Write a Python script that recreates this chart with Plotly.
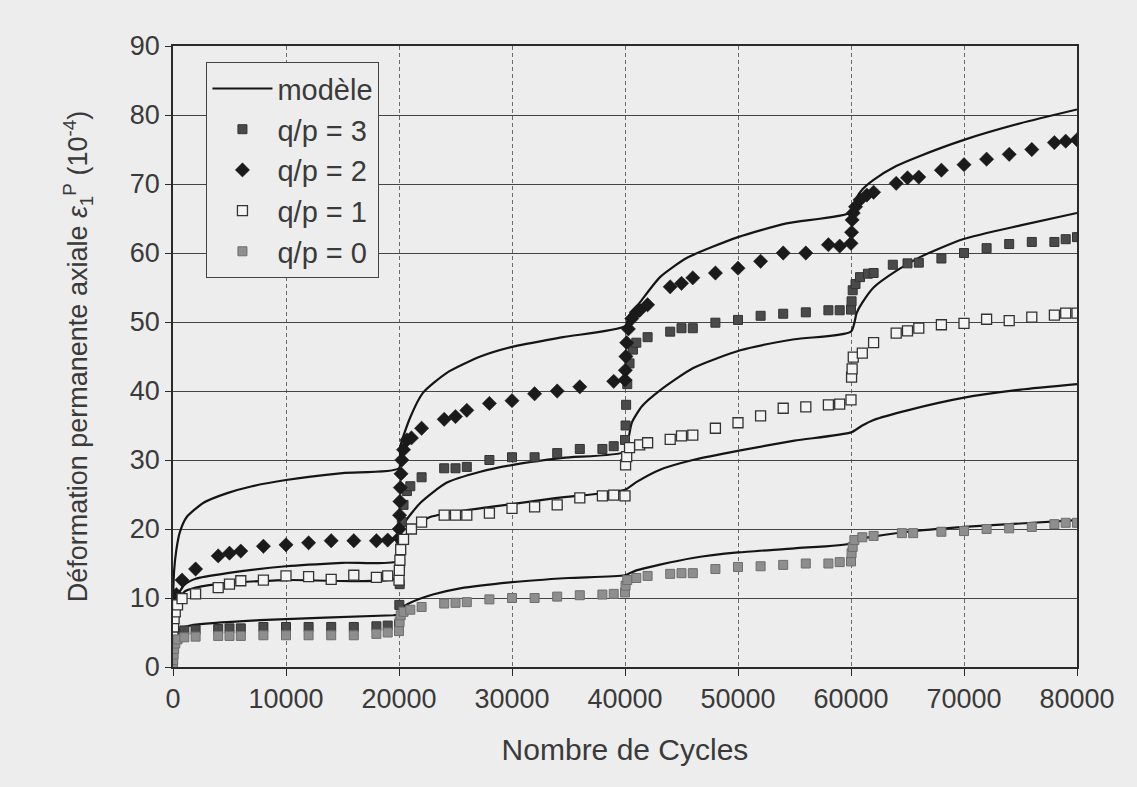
import plotly.graph_objects as go

# ---- measured permanent axial strain (10^-4) vs number of cycles ----
qp3_cycles = [0, 200, 500, 1000, 2000, 4000, 5000, 6000, 8000, 10000, 12000, 14000, 16000, 18000, 19000, 20000,
              20030, 20060, 20100, 20150, 20250, 20400, 20700, 21000, 22000, 24000, 25000, 26000, 28000, 30000,
              32000, 34000, 36000, 38000, 39000, 40000, 40050, 40100, 40200, 40400, 40700, 41000, 42000, 44000,
              45000, 46000, 48000, 50000, 52000, 54000, 56000, 58000, 59000, 60000, 60050, 60150, 60400, 60800,
              61500, 62000, 63700, 65000, 66000, 68000, 70000, 72000, 74000, 76000, 78000, 79000, 80000]
qp3_strain = [3.5, 4.5, 5.0, 5.3, 5.4, 5.5, 5.6, 5.6, 5.8, 5.8, 5.8, 5.8, 5.8, 5.9, 6.0, 6.2,
              9.0, 12.0, 15.0, 18.0, 21.0, 23.5, 25.5, 26.2, 27.5, 28.8, 28.8, 29.0, 30.0, 30.4,
              30.4, 31.0, 31.6, 31.6, 32.0, 32.9, 35.0, 38.0, 41.0, 44.0, 46.0, 47.0, 47.8, 48.6,
              49.1, 49.1, 49.9, 50.3, 50.9, 51.2, 51.4, 51.7, 51.7, 51.8, 53.0, 54.6, 55.5, 56.5,
              57.0, 57.1, 58.3, 58.5, 58.6, 59.2, 60.0, 60.7, 61.3, 61.6, 61.6, 62.0, 62.3]

qp2_cycles = [0, 300, 800, 2000, 4000, 5000, 6000, 8000, 10000, 12000, 14000, 16000, 18000, 19000, 20000,
              20020, 20050, 20080, 20120, 20180, 20250, 20400, 20700, 21100, 22000, 24000, 25000, 26000, 28000,
              30000, 32000, 34000, 36000, 39000, 40000, 40030, 40080, 40150, 40300, 40600, 41000, 41300, 42000,
              44000, 45000, 46000, 48000, 50000, 52000, 54000, 56000, 58000, 59000, 60000, 60050, 60100, 60200,
              60400, 60800, 61400, 62000, 64000, 65000, 66000, 68000, 70000, 72000, 74000, 76000, 78000, 79000,
              80000]
qp2_strain = [9.5, 10.5, 12.6, 14.2, 16.1, 16.5, 16.8, 17.5, 17.7, 18.0, 18.3, 18.3, 18.3, 18.4, 18.7,
              20.0, 22.0, 24.0, 26.0, 28.0, 30.0, 31.5, 32.9, 33.2, 34.6, 35.9, 36.3, 37.2, 38.2,
              38.6, 39.6, 40.0, 40.6, 41.4, 41.6, 43.0, 45.0, 47.0, 49.0, 50.5, 51.4, 51.7, 52.5,
              55.1, 55.6, 56.4, 57.1, 57.8, 58.8, 60.0, 60.0, 61.2, 61.0, 61.4, 63.0, 64.8, 65.8,
              66.7, 67.7, 68.4, 68.8, 70.1, 70.9, 71.0, 72.0, 72.8, 73.6, 74.3, 75.0, 76.0, 76.2,
              76.4]

qp1_cycles = [0, 50, 100, 200, 400, 800, 2000, 4000, 5000, 6000, 8000, 10000, 12000, 14000, 16000, 18000, 19000,
              20000, 20030, 20080, 20150, 20400, 21100, 22000, 24000, 25000, 26000, 28000, 30000, 32000, 34000,
              36000, 38000, 39000, 40000, 40050, 40150, 40400, 41300, 42000, 44000, 45000, 46000, 48000, 50000,
              52000, 54000, 56000, 58000, 59000, 60000, 60050, 60100, 60200, 61000, 62000, 64000, 65000, 66000,
              68000, 70000, 72000, 74000, 76000, 78000, 79000, 80000]
qp1_strain = [4.5, 5.8, 7.0, 8.0, 9.0, 9.9, 10.6, 11.5, 12.0, 12.5, 12.6, 13.2, 13.1, 12.7, 13.3, 13.0, 13.2,
              12.6, 14.0, 15.5, 17.0, 18.5, 20.0, 21.0, 22.0, 22.0, 22.0, 22.3, 23.0, 23.2, 23.5,
              24.5, 24.8, 24.9, 24.8, 29.3, 30.5, 31.8, 32.2, 32.5, 33.0, 33.5, 33.6, 34.6, 35.4,
              36.4, 37.5, 37.7, 38.0, 38.1, 38.7, 42.0, 43.2, 44.9, 45.5, 47.0, 48.4, 48.7, 49.1,
              49.6, 49.8, 50.4, 50.2, 50.7, 51.0, 51.3, 51.3]

qp0_cycles = [0, 20, 50, 100, 200, 400, 1000, 2000, 4000, 5000, 6000, 8000, 10000, 12000, 14000, 16000, 18000,
              19000, 20000, 20050, 20150, 20400, 21000, 22000, 24000, 25000, 26000, 28000, 30000, 32000, 34000,
              36000, 38000, 39000, 40000, 40050, 40200, 41000, 42000, 44000, 45000, 46000, 48000, 50000, 52000,
              54000, 56000, 58000, 59000, 60000, 60050, 60150, 60300, 61000, 62000, 64500, 65500, 68000, 70000,
              72000, 74000, 76000, 78000, 79000, 80000]
qp0_strain = [0.3, 1.0, 1.8, 2.6, 3.4, 4.0, 4.3, 4.4, 4.5, 4.5, 4.5, 4.6, 4.6, 4.6, 4.6, 4.6, 4.8,
              5.0, 5.2, 6.5, 7.5, 8.0, 8.3, 8.7, 9.2, 9.3, 9.4, 9.8, 10.0, 10.0, 10.2,
              10.4, 10.5, 10.6, 10.8, 11.8, 12.6, 12.9, 13.2, 13.5, 13.6, 13.6, 14.2, 14.5, 14.6,
              14.8, 15.0, 15.0, 15.2, 15.3, 16.5, 17.4, 18.4, 18.8, 19.0, 19.4, 19.4, 19.6, 19.7,
              20.0, 20.1, 20.3, 20.7, 20.9, 20.9]

# ---- model curves ----
model2_cycles = [0, 100, 300, 600, 1200, 2700, 4800, 7000, 10000, 15000, 20000,
                 20100, 21000, 22100, 24200, 27200, 30000, 34500, 40000,
                 40400, 41300, 43100, 45500, 50000, 54300, 60000,
                 60500, 61000, 62000, 64000, 66000, 70000, 75000, 80000]
model2_strain = [10.0, 14.0, 17.0, 19.5, 21.7, 23.8, 25.2, 26.2, 27.1, 28.1, 28.8,
                 31.9, 36.2, 39.7, 42.6, 45.0, 46.4, 47.8, 49.4,
                 51.0, 52.8, 56.5, 59.3, 62.3, 64.3, 65.9,
                 68.0, 69.2, 70.6, 72.6, 74.0, 76.4, 78.8, 80.8]

model3_cycles = [0, 100, 300, 1000, 2000, 4800, 10000, 15000, 20000,
                 20100, 20500, 21900, 24200, 27200, 30100, 34500, 40000,
                 40300, 40600, 41500, 43100, 46000, 50200, 55000, 60000,
                 60500, 61000, 62000, 64000, 66100, 69900, 75000, 80000]
model3_strain = [5.0, 8.0, 10.0, 11.9, 12.8, 13.6, 14.6, 15.1, 15.4,
                 18.5, 20.9, 23.8, 26.7, 28.3, 29.3, 30.3, 31.2,
                 33.0, 35.4, 37.8, 40.1, 43.3, 45.9, 47.5, 48.6,
                 51.3, 52.8, 55.0, 57.4, 59.4, 62.0, 64.0, 65.8]

model1_cycles = [0, 100, 300, 1000, 2000, 5000, 10000, 20000,
                 20100, 20500, 21500, 22700, 25000, 28100, 34000, 40000,
                 41000, 43100, 46000, 50200, 55000, 60000,
                 61000, 62000, 65000, 69900, 75000, 80000]
model1_strain = [4.0, 7.0, 9.0, 10.9, 11.5, 12.2, 12.6, 13.0,
                 16.5, 18.8, 20.5, 21.7, 22.5, 23.2, 24.5, 25.7,
                 26.8, 28.6, 30.0, 31.4, 32.8, 34.0,
                 35.0, 35.8, 37.2, 39.0, 40.2, 41.0]

model0_cycles = [0, 100, 500, 1800, 7700, 19500, 20000,
                 20300, 21000, 23000, 25400, 30000, 35000, 40000,
                 41000, 43000, 46000, 50000, 55000, 60000,
                 60300, 62000, 65000, 70000, 75000, 80000]
model0_strain = [3.0, 4.5, 5.4, 6.1, 6.8, 7.5, 7.6,
                 8.6, 9.3, 10.5, 11.4, 12.3, 12.9, 13.3,
                 14.0, 14.8, 15.8, 16.6, 17.2, 17.9,
                 18.4, 18.9, 19.6, 20.3, 20.8, 21.3]

x_ticks = [0, 10000, 20000, 30000, 40000, 50000, 60000, 70000, 80000]
y_ticks = [0, 10, 20, 30, 40, 50, 60, 70, 80, 90]

PAPER = "#ededed"
INK = "#2a2a2a"
TEXT = "#3a3a3a"
FONT = "Liberation Sans, Arial, sans-serif"

fig = go.Figure()

models = [(model3_cycles, model3_strain), (model2_cycles, model2_strain),
          (model1_cycles, model1_strain), (model0_cycles, model0_strain)]
for i, (cx, cy) in enumerate(models):
    fig.add_trace(go.Scatter(
        x=cx, y=cy, mode="lines", name="modèle", legendgroup="modele",
        showlegend=(i == 0), line=dict(color="#151515", width=2.2, shape="spline", smoothing=0.6),
    ))

fig.add_trace(go.Scatter(
    x=qp3_cycles, y=qp3_strain, mode="markers", name="q/p = 3",
    marker=dict(symbol="square", size=9, color="#4a4a4a", line=dict(color="#333333", width=1)),
))
fig.add_trace(go.Scatter(
    x=qp2_cycles, y=qp2_strain, mode="markers", name="q/p = 2",
    marker=dict(symbol="diamond", size=11, color="#1a1a1a", line=dict(color="#1a1a1a", width=0.5)),
))
fig.add_trace(go.Scatter(
    x=qp1_cycles, y=qp1_strain, mode="markers", name="q/p = 1",
    marker=dict(symbol="square", size=10, color="#f4f4f4", line=dict(color="#333333", width=1.3)),
))
fig.add_trace(go.Scatter(
    x=qp0_cycles, y=qp0_strain, mode="markers", name="q/p = 0",
    marker=dict(symbol="square", size=9, color="#8e8e8e", line=dict(color="#6e6e6e", width=1)),
))

fig.update_layout(
    width=1137, height=787,
    margin=dict(l=173, r=60, t=46, b=120),
    paper_bgcolor=PAPER, plot_bgcolor=PAPER,
    font=dict(family=FONT, size=27, color=TEXT),
    showlegend=True,
    legend=dict(
        x=0.037, y=0.974, xanchor="left", yanchor="top",
        bgcolor=PAPER, bordercolor="#444444", borderwidth=1,
        font=dict(family=FONT, size=29, color=TEXT),
        itemwidth=60, tracegroupgap=0,
    ),
)

fig.update_xaxes(
    range=[0, 80000], tickvals=x_ticks, ticktext=[str(v) for v in x_ticks],
    showgrid=True, gridcolor="#6a6a6a", gridwidth=1, griddash="4px,3px",
    showline=True, linecolor=INK, linewidth=1.6, mirror=True,
    ticks="outside", ticklen=7, tickcolor=INK,
    zeroline=False, tickfont=dict(size=27),
    title=dict(text="Nombre de Cycles", font=dict(size=30), standoff=26),
)
fig.update_yaxes(
    range=[0, 90], tickvals=y_ticks, ticktext=[str(v) for v in y_ticks],
    showgrid=True, gridcolor="#444444", gridwidth=1.3,
    showline=True, linecolor=INK, linewidth=1.6, mirror=True,
    ticks="outside", ticklen=6, tickcolor=INK,
    zeroline=False, tickfont=dict(size=27),
    title=dict(text="Déformation permanente axiale <i>ε</i><sub>1</sub><sup>P</sup> (10<sup>-4</sup>)",
               font=dict(size=27), standoff=34),
)

fig.write_html("out.html")
